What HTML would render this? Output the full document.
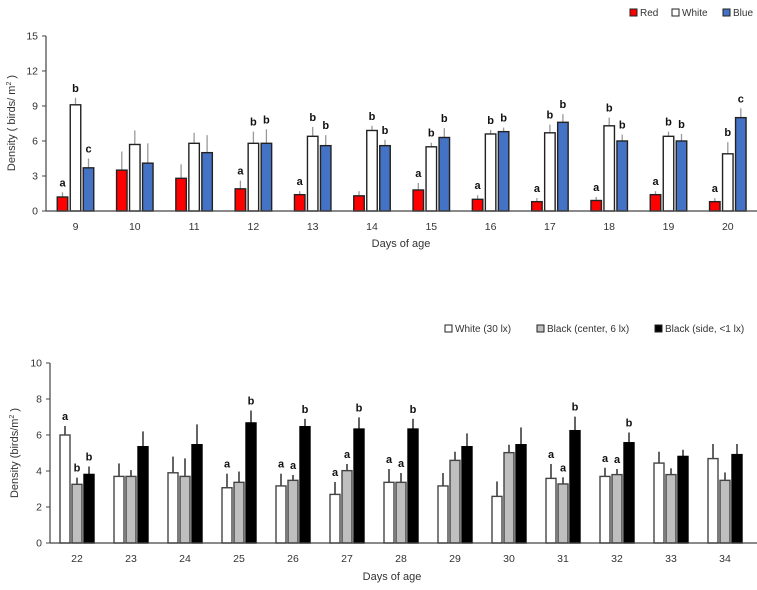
<!DOCTYPE html>
<html><head><meta charset="utf-8"><style>
html,body{margin:0;padding:0;background:#fff;}
svg{display:block;font-family:"Liberation Sans",sans-serif;}
</style></head><body>
<svg id="fig" width="757" height="590" viewBox="0 0 757 590"></svg>
<script>
// ---- Top chart data ----
const topDays = ['9','10','11','12','13','14','15','16','17','18','19','20'];
const topRed = [1.2,3.5,2.8,1.9,1.4,1.3,1.8,1.0,0.8,0.9,1.4,0.8];
const topWhite = [9.1,5.7,5.8,5.8,6.4,6.9,5.5,6.6,6.7,7.3,6.4,4.9];
const topBlue = [3.7,4.1,5.0,5.8,5.6,5.6,6.3,6.8,7.6,6.0,6.0,8.0];
const topRedErr = [0.4,1.6,1.2,0.7,0.3,0.4,0.6,0.35,0.3,0.3,0.3,0.3];
const topWhiteErr = [0.6,1.2,0.9,1.0,0.8,0.4,0.35,0.35,0.7,0.7,0.4,1.0];
const topBlueErr = [0.8,1.7,1.5,1.2,0.9,0.5,0.8,0.35,0.7,0.55,0.6,0.8];
const topRedLet = ['a','','','a','a','','a','a','a','a','a','a'];
const topWhiteLet = ['b','','','b','b','b','b','b','b','b','b','b'];
const topBlueLet = ['c','','','b','b','b','b','b','b','b','b','c'];
const topTicks = [0,3,6,9,12,15];
// ---- Bottom chart data ----
const botDays = ['22','23','24','25','26','27','28','29','30','31','32','33','34'];
const botWhite = [6.0,3.7,3.9,3.07,3.17,2.7,3.37,3.17,2.59,3.59,3.7,4.44,4.69];
const botGrey = [3.26,3.7,3.7,3.37,3.48,4.02,3.37,4.59,5.02,3.28,3.8,3.8,3.48];
const botBlack = [3.81,5.35,5.46,6.67,6.46,6.33,6.33,5.35,5.46,6.24,5.57,4.81,4.91];
const botWhiteErr = [0.5,0.72,0.9,0.78,0.68,0.69,0.74,0.72,0.83,0.8,0.48,0.63,0.81];
const botGreyErr = [0.37,0.35,1.0,0.6,0.3,0.37,0.52,0.48,0.44,0.37,0.31,0.35,0.44];
const botBlackErr = [0.44,0.85,1.13,0.69,0.44,0.65,0.57,0.74,0.96,0.78,0.57,0.37,0.59];
const botWhiteLet = ['a','','','a','a','a','a','','','a','a','',''];
const botGreyLet = ['b','','','','a','a','a','','','a','a','',''];
const botBlackLet = ['b','','','b','b','b','b','','','b','b','',''];
const botTicks = [0,2,4,6,8,10];

const svg = document.getElementById('fig');
const NS = 'http://www.w3.org/2000/svg';
function mk(tag, attrs, parent){
  const e = document.createElementNS(NS, tag);
  for (const k in attrs) e.setAttribute(k, attrs[k]);
  (parent||svg).appendChild(e);
  return e;
}

function chart(cfg){
  const g = mk('g', {});
  
  
  const y = v => cfg.y0 - v * cfg.ppu;
  const x = i => cfg.x0 + i * cfg.pitch;
  // y axis
  const ya = mk('line', {x1:cfg.ax, y1:y(cfg.ticks[cfg.ticks.length-1]), x2:cfg.ax, y2:cfg.y0, stroke:'#444', 'stroke-width':1.2}, g);
  
  
  cfg.ticks.forEach(t => {
    mk('line', {x1:cfg.ax-4, y1:y(t), x2:cfg.ax, y2:y(t), stroke:'#444', 'stroke-width':1}, g);
    const tl = mk('text', {x:cfg.ax-8, y:y(t)+3.5, 'font-size':10.5, fill:'#333', 'text-anchor':'end'}, g);
    tl.textContent = t;
    
    
  });
  cfg.days.forEach((d, i) => {
    const tl = mk('text', {x:x(i), y:cfg.y0+19, 'font-size':10.5, fill:'#333', 'text-anchor':'middle'}, g);
    tl.textContent = d;
    
    
    cfg.series.forEach(s => {
      const v = s.vals[i], cx = x(i) + s.off;
      const top = y(v);
      const ey = y(v + s.err[i]);
      const el = mk('line', {x1:cx, y1:ey, x2:cx, y2:top, stroke:cfg.errColor, 'stroke-width':1.3}, g);
      
      
      const r = mk('rect', {x:cx - cfg.bw/2, y:top, width:cfg.bw, height:cfg.y0 - top, fill:s.fill, stroke:s.stroke, 'stroke-width':1.4}, g);
      
      
      if (s.lets[i]) {
        const lt = mk('text', {x:cx, y:ey-6, 'font-size':11, 'font-weight':'bold', fill:'#111', 'text-anchor':'middle'}, g);
        lt.textContent = s.lets[i];
        
        
      }
    });
  });
  const xa = mk('line', {x1:cfg.ax, y1:cfg.y0, x2:757, y2:cfg.y0, stroke:'#444', 'stroke-width':1.3}, g);
  
  
  const xt = mk('text', {x:cfg.xtx, y:cfg.xty, 'font-size':11, fill:'#333', 'text-anchor':'middle'}, g);
  xt.textContent = 'Days of age';
  
  
  const yt = mk('text', {x:0, y:0, 'font-size':11, fill:'#333', 'text-anchor':'middle', transform:`translate(${cfg.ytx},${cfg.yty}) rotate(-90)`}, g);
  yt.innerHTML = cfg.ytitle;
  
  
  // legend
  cfg.legend.forEach(L => {
    const lg = mk('g', {}, g);
    
    
    mk('rect', {x:L.x, y:cfg.ly-7, width:7, height:7, fill:L.fill, stroke:'#222', 'stroke-width':1}, lg);
    const t = mk('text', {x:L.x+10, y:cfg.ly, 'font-size':10, fill:'#333'}, lg);
    t.textContent = L.label;
  });
}

chart({name:'top-chart', ax:46, y0:211, ppu:11.67, x0:75.5, pitch:59.3, bw:10.5, errColor:'#999',
  ticks: topTicks, days: topDays,
  series:[
    {key:'red', vals:topRed, err:topRedErr, lets:topRedLet, off:-13, fill:'#ff0000', stroke:'#222'},
    {key:'white', vals:topWhite, err:topWhiteErr, lets:topWhiteLet, off:0, fill:'#ffffff', stroke:'#222'},
    {key:'blue', vals:topBlue, err:topBlueErr, lets:topBlueLet, off:13, fill:'#4472c4', stroke:'#222'}],
  xtx:401, xty:247, ytx:15, yty:123, ytitle:'Density ( birds/ m<tspan font-size="7" dy="-4">2</tspan><tspan dy="4"> )</tspan>',
  ly:16, legend:[{x:630,fill:'#ff0000',label:'Red'},{x:672,fill:'#ffffff',label:'White'},{x:723,fill:'#4472c4',label:'Blue'}]
});

chart({name:'bottom-chart', ax:50, y0:543, ppu:18, x0:77, pitch:54, bw:10, errColor:'#111',
  ticks: botTicks, days: botDays,
  series:[
    {key:'white', vals:botWhite, err:botWhiteErr, lets:botWhiteLet, off:-12, fill:'#ffffff', stroke:'#444'},
    {key:'grey', vals:botGrey, err:botGreyErr, lets:botGreyLet, off:0, fill:'#bfbfbf', stroke:'#444'},
    {key:'black', vals:botBlack, err:botBlackErr, lets:botBlackLet, off:12, fill:'#000000', stroke:'#000'}],
  xtx:392, xty:580, ytx:18, yty:453, ytitle:'Density (birds/m<tspan font-size="7" dy="-4">2</tspan><tspan dy="4"> )</tspan>',
  ly:332, legend:[{x:445,fill:'#ffffff',label:'White (30 lx)'},{x:537,fill:'#bfbfbf',label:'Black (center, 6 lx)'},{x:655,fill:'#000000',label:'Black (side, <1 lx)'}]
});
</script>
</body></html>
